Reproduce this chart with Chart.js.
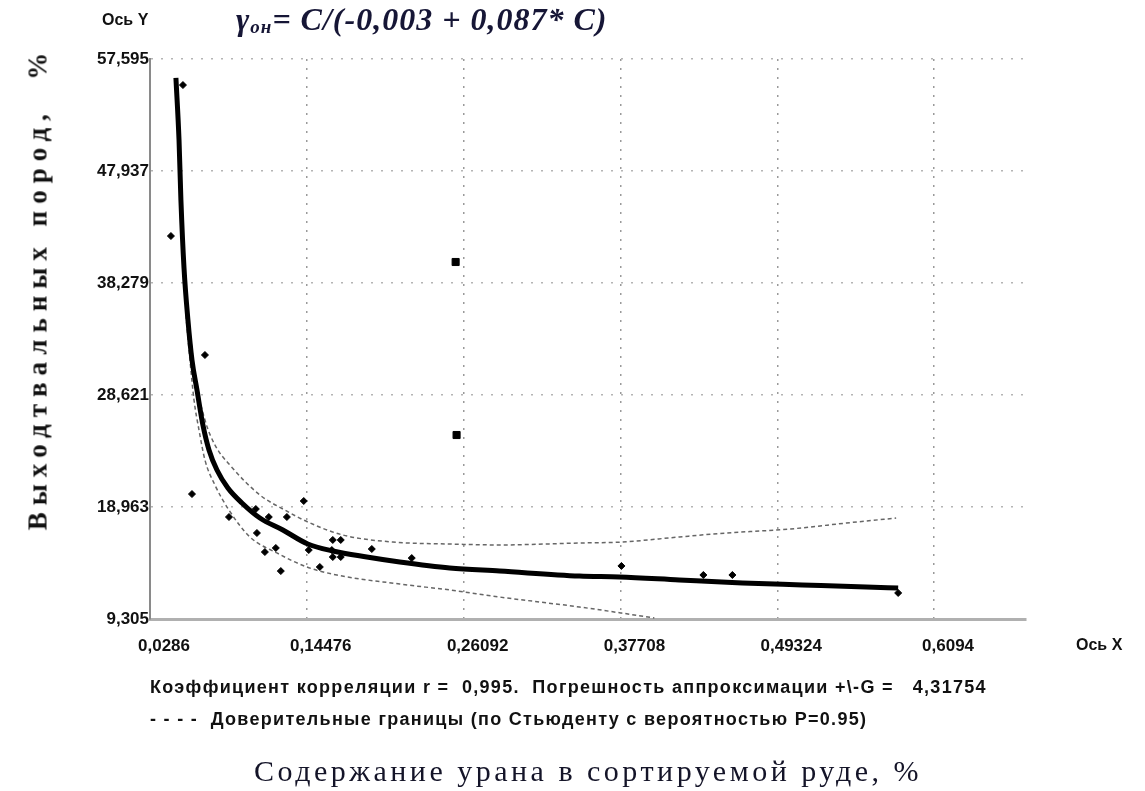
<!DOCTYPE html>
<html lang="ru">
<head>
<meta charset="UTF-8">
<title>Выход отвальных пород</title>
<script src="https://cdn.jsdelivr.net/npm/chart.js@4.4.0/dist/chart.umd.min.js"></script>
<style>
    body { margin: 0; background: #fff; }
    #wrap { position: relative; width: 1145px; height: 791px; }
    #wrap canvas { position: absolute; left: 0; top: 0; }
    .lbl { position: absolute; white-space: nowrap; color: #111; }
    .bold { font-family: "Liberation Sans", Arial, sans-serif; font-weight: bold; }
    .axisname { font-size: 16px; }
    .formula {
        left: 236px; top: 1px;
        font-family: "Liberation Serif", "Times New Roman", serif;
        font-style: italic; font-weight: bold; font-size: 32px;
        color: #161636; letter-spacing: 1px;
    }
    .formula sub { font-size: 19px; vertical-align: -3px; letter-spacing: 1px; }
    .note { font-size: 18px; letter-spacing: 1.3px; }
    .ytitle {
        left: 38px; top: 288px;
        transform: translate(-50%, -50%) rotate(-90deg);
        font-family: "Liberation Serif", "Times New Roman", serif;
        font-weight: bold; font-size: 27px; letter-spacing: 7px;
    }
    .xtitle {
        left: 588px; top: 771px;
        transform: translate(-50%, -50%);
        font-family: "Liberation Serif", "Times New Roman", serif;
        font-size: 30px; letter-spacing: 3.5px; color: #141428;
    }
</style>
</head>
<body>
<div id="wrap">
    <canvas id="chart" width="1145" height="791"></canvas>
    <div class="lbl bold axisname" style="left:102px; top:11px;">Ось Y</div>
    <div class="lbl formula">γ<sub>он</sub>= C/(-0,003 + 0,087* C)</div>
    <div class="lbl bold axisname" style="left:1076px; top:636px;">Ось X</div>
    <div class="lbl bold note" style="left:150px; top:677px;">Коэффициент корреляции r =&nbsp; 0,995.&nbsp; Погрешность аппроксимации +\-G = &nbsp; 4,31754</div>
    <div class="lbl bold note" style="left:150px; top:709px;">- - - -&nbsp; Доверительные границы (по Стьюденту с вероятностью P=0.95)</div>
    <div class="lbl ytitle">Выходтвальных пород,&nbsp; %</div>
    <div class="lbl xtitle">Содержание урана в сортируемой руде, %</div>
</div>

<script>
    // оси
    const xTickVals = [0.0286, 0.14476, 0.26092, 0.37708, 0.49324, 0.6094];
    const xTickLabels = ['0,0286', '0,14476', '0,26092', '0,37708', '0,49324', '0,6094'];
    const yTickVals = [9.305, 18.963, 28.621, 38.279, 47.937, 57.595];
    const yTickLabels = ['9,305', '18,963', '28,621', '38,279', '47,937', '57,595'];

    // опытные точки
    const obsX = [0.0530, 0.0441, 0.0693, 0.0597, 0.0871, 0.1070, 0.1166, 0.1300, 0.1425, 0.1078,
        0.1137, 0.1218, 0.1255, 0.1462, 0.1544, 0.1640, 0.1699, 0.1633, 0.1640, 0.1699,
        0.1929, 0.2225, 0.3778, 0.4385, 0.4600, 0.5828];
    const obsY = [55.35, 42.33, 32.07, 20.08, 18.10, 18.79, 18.10, 18.10, 19.48, 16.72,
        15.08, 15.43, 13.44, 15.25, 13.79, 16.12, 16.12, 15.25, 14.65, 14.65,
        15.34, 14.56, 13.88, 13.10, 13.10, 11.55];

    // выбросы (квадраты)
    const outX = [0.2550, 0.2557];
    const outY = [40.09, 25.17];

    // аппроксимирующая кривая
    const fitX = [0.0478, 0.0501, 0.0515, 0.0538, 0.0567, 0.0597, 0.0634, 0.0678, 0.0723, 0.0782,
        0.0863, 0.0967, 0.1100, 0.1270, 0.1455, 0.1640, 0.1892, 0.2136, 0.2506, 0.2876,
        0.3467, 0.3763, 0.4207, 0.4674, 0.5117, 0.5591, 0.5828];
    const fitY = [55.96, 50.61, 45.44, 39.57, 35.09, 31.64, 29.05, 26.03, 23.88, 22.15,
        20.60, 19.31, 18.01, 16.98, 15.77, 15.17, 14.65, 14.22, 13.70, 13.44,
        13.01, 12.93, 12.67, 12.41, 12.24, 12.06, 11.98];

    // доверительные границы
    const upX = [0.0567, 0.0626, 0.0693, 0.0767, 0.0878, 0.1100, 0.1285, 0.1455, 0.1714, 0.2084,
        0.2506, 0.2876, 0.3467, 0.3778, 0.4207, 0.4555, 0.5032, 0.5443, 0.5813];
    const upY = [35.52, 29.91, 26.46, 24.31, 22.58, 20.00, 18.70, 17.67, 16.55, 15.94,
        15.77, 15.69, 15.86, 15.94, 16.38, 16.72, 17.07, 17.58, 18.01];
    const lowX = [0.0552, 0.0582, 0.0612, 0.0649, 0.0693, 0.0767, 0.0871, 0.1026, 0.1226, 0.1448,
        0.1670, 0.2136, 0.2506, 0.2876, 0.3467, 0.3778, 0.4022];
    const lowY = [35.52, 31.64, 28.19, 25.60, 23.02, 20.86, 18.70, 16.38, 15.00, 13.79,
        13.10, 12.32, 11.81, 11.20, 10.34, 9.82, 9.39];

    const pts = (xs, ys) => xs.map((x, i) => ({ x: x, y: ys[i] }));

    const bandStyle = {
        type: 'line',
        borderColor: '#666',
        borderWidth: 1.5,
        borderDash: [4, 3],
        pointRadius: 0,
        fill: false,
        cubicInterpolationMode: 'monotone',
        order: 3
    };

    new Chart(document.getElementById('chart'), {
        type: 'scatter',
        data: {
            datasets: [
                {
                    label: 'Опытные данные',
                    data: pts(obsX, obsY),
                    pointStyle: 'rectRot',
                    pointRadius: 3.5,
                    backgroundColor: '#000',
                    borderColor: '#000',
                    borderWidth: 1,
                    order: 0
                },
                {
                    label: 'Выбросы',
                    data: pts(outX, outY),
                    pointStyle: 'rect',
                    pointRadius: 5,
                    backgroundColor: '#000',
                    borderColor: '#000',
                    order: 0
                },
                {
                    label: 'Аппроксимация',
                    type: 'line',
                    data: pts(fitX, fitY),
                    borderColor: '#000',
                    borderWidth: 5,
                    pointRadius: 0,
                    fill: false,
                    cubicInterpolationMode: 'monotone',
                    order: 1
                },
                Object.assign({ label: 'Верхняя граница', data: pts(upX, upY) }, bandStyle),
                Object.assign({ label: 'Нижняя граница', data: pts(lowX, lowY) }, bandStyle)
            ]
        },
        options: {
            responsive: false,
            animation: false,
            layout: { padding: { top: 59, right: 119, bottom: 0, left: 0 } },
            plugins: {
                legend: { display: false },
                tooltip: { enabled: false }
            },
            scales: {
                x: {
                    type: 'linear',
                    min: 0.0286,
                    max: 0.6775,
                    afterBuildTicks: (scale) => { scale.ticks = xTickVals.map(v => ({ value: v })); },
                    afterFit: (scale) => { scale.height = 172; },
                    ticks: {
                        callback: (v, i) => xTickLabels[i],
                        color: '#111',
                        font: { family: 'Liberation Sans', weight: 'bold', size: 17 },
                        padding: 17,
                        labelOffset: 14,
                        maxRotation: 0,
                        autoSkip: false
                    },
                    grid: {
                        drawTicks: false,
                        lineWidth: 1.5,
                        color: (ctx) => ctx.index === 0 ? 'rgba(0,0,0,0)' : '#9a9a9a'
                    },
                    border: { color: '#b0b0b0', width: 3, dash: [2, 7] }
                },
                y: {
                    type: 'linear',
                    min: 9.305,
                    max: 57.595,
                    afterBuildTicks: (scale) => { scale.ticks = yTickVals.map(v => ({ value: v })); },
                    afterFit: (scale) => { scale.width = 150; },
                    ticks: {
                        callback: (v, i) => yTickLabels[i],
                        color: '#111',
                        font: { family: 'Liberation Sans', weight: 'bold', size: 17 },
                        padding: 1,
                        autoSkip: false
                    },
                    grid: {
                        drawTicks: false,
                        lineWidth: 1.5,
                        color: (ctx) => ctx.index === 0 ? 'rgba(0,0,0,0)' : '#b4b4b4'
                    },
                    border: { color: '#8a8a8a', width: 2, dash: [2, 8] }
                }
            }
        }
    });
</script>
</body>
</html>
